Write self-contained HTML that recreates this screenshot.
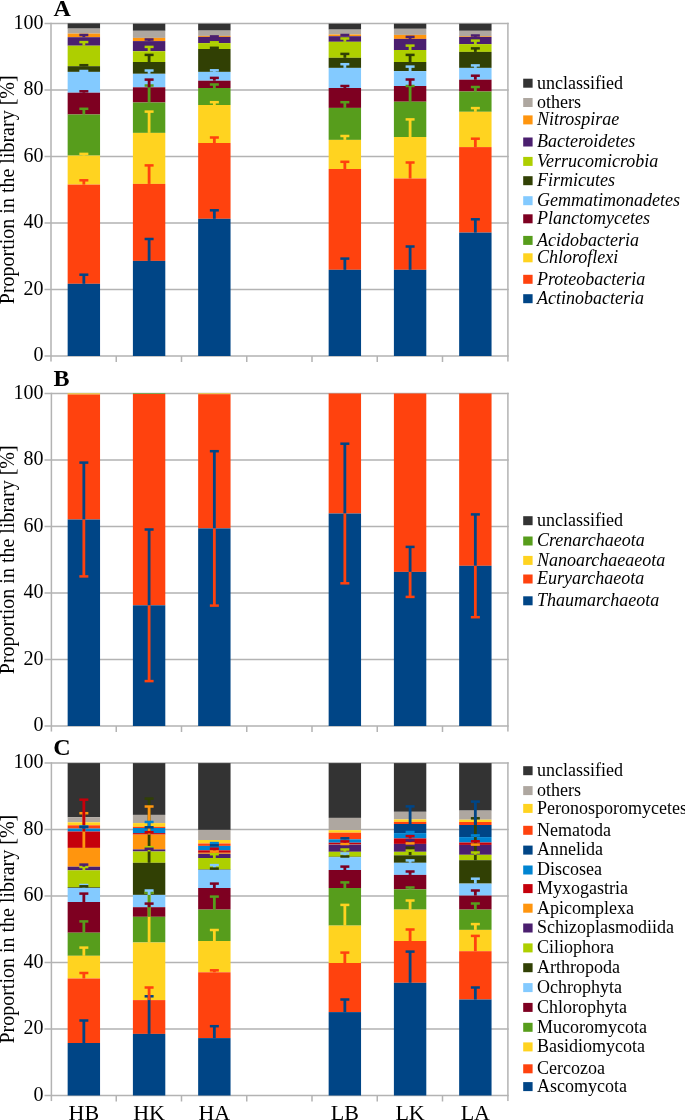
<!DOCTYPE html>
<html><head><meta charset="utf-8"><style>
html,body{margin:0;padding:0;background:#fff;}
svg{display:block;}
text{font-family:"Liberation Serif",serif;fill:#000;}
.t{filter:grayscale(1);}
</style></head><body>
<svg width="685" height="1120" viewBox="0 0 685 1120">
<rect width="685" height="1120" fill="#fff"/>
<g shape-rendering="auto">
<rect x="44.50" y="355.25" width="464.20" height="1.50" fill="#b3b3b3"/>
<rect x="44.50" y="288.75" width="464.20" height="1.50" fill="#b3b3b3"/>
<rect x="44.50" y="222.25" width="464.20" height="1.50" fill="#b3b3b3"/>
<rect x="44.50" y="155.75" width="464.20" height="1.50" fill="#b3b3b3"/>
<rect x="44.50" y="89.25" width="464.20" height="1.50" fill="#b3b3b3"/>
<rect x="44.50" y="22.75" width="464.20" height="1.50" fill="#b3b3b3"/>
<rect x="50.25" y="22.75" width="1.50" height="338.80" fill="#b3b3b3"/>
<rect x="115.50" y="356.00" width="1.50" height="6.00" fill="#b3b3b3"/>
<rect x="180.75" y="356.00" width="1.50" height="6.00" fill="#b3b3b3"/>
<rect x="246.00" y="356.00" width="1.50" height="6.00" fill="#b3b3b3"/>
<rect x="311.25" y="356.00" width="1.50" height="6.00" fill="#b3b3b3"/>
<rect x="376.50" y="356.00" width="1.50" height="6.00" fill="#b3b3b3"/>
<rect x="441.75" y="356.00" width="1.50" height="6.00" fill="#b3b3b3"/>
<rect x="507.15" y="22.75" width="1.50" height="338.80" fill="#b3b3b3"/>
<rect x="67.65" y="23.40" width="32.40" height="5.20" fill="#333333"/>
<rect x="67.65" y="28.60" width="32.40" height="5.00" fill="#aea7a0"/>
<rect x="67.65" y="33.60" width="32.40" height="3.60" fill="#ff950e"/>
<rect x="67.65" y="37.20" width="32.40" height="8.50" fill="#4b1f6f"/>
<rect x="67.65" y="45.70" width="32.40" height="20.50" fill="#aecf00"/>
<rect x="67.65" y="66.20" width="32.40" height="5.70" fill="#314004"/>
<rect x="67.65" y="71.90" width="32.40" height="20.80" fill="#83caff"/>
<rect x="67.65" y="92.70" width="32.40" height="21.80" fill="#7e0021"/>
<rect x="67.65" y="114.50" width="32.40" height="41.10" fill="#579d1c"/>
<rect x="67.65" y="155.60" width="32.40" height="29.00" fill="#ffd320"/>
<rect x="67.65" y="184.60" width="32.40" height="99.20" fill="#ff420e"/>
<rect x="67.65" y="283.80" width="32.40" height="72.20" fill="#004586"/>
<rect x="132.90" y="23.70" width="32.40" height="7.10" fill="#333333"/>
<rect x="132.90" y="30.80" width="32.40" height="7.10" fill="#aea7a0"/>
<rect x="132.90" y="37.90" width="32.40" height="3.20" fill="#ff950e"/>
<rect x="132.90" y="41.10" width="32.40" height="10.10" fill="#4b1f6f"/>
<rect x="132.90" y="51.20" width="32.40" height="10.80" fill="#aecf00"/>
<rect x="132.90" y="62.00" width="32.40" height="11.80" fill="#314004"/>
<rect x="132.90" y="73.80" width="32.40" height="13.50" fill="#83caff"/>
<rect x="132.90" y="87.30" width="32.40" height="15.20" fill="#7e0021"/>
<rect x="132.90" y="102.50" width="32.40" height="30.40" fill="#579d1c"/>
<rect x="132.90" y="132.90" width="32.40" height="51.00" fill="#ffd320"/>
<rect x="132.90" y="183.90" width="32.40" height="77.00" fill="#ff420e"/>
<rect x="132.90" y="260.90" width="32.40" height="95.10" fill="#004586"/>
<rect x="198.15" y="23.70" width="32.40" height="6.90" fill="#333333"/>
<rect x="198.15" y="30.60" width="32.40" height="5.30" fill="#aea7a0"/>
<rect x="198.15" y="35.90" width="32.40" height="1.00" fill="#ff950e"/>
<rect x="198.15" y="36.90" width="32.40" height="6.20" fill="#4b1f6f"/>
<rect x="198.15" y="43.10" width="32.40" height="5.90" fill="#aecf00"/>
<rect x="198.15" y="49.00" width="32.40" height="22.90" fill="#314004"/>
<rect x="198.15" y="71.90" width="32.40" height="8.80" fill="#83caff"/>
<rect x="198.15" y="80.70" width="32.40" height="7.30" fill="#7e0021"/>
<rect x="198.15" y="88.00" width="32.40" height="17.00" fill="#579d1c"/>
<rect x="198.15" y="105.00" width="32.40" height="38.00" fill="#ffd320"/>
<rect x="198.15" y="143.00" width="32.40" height="75.80" fill="#ff420e"/>
<rect x="198.15" y="218.80" width="32.40" height="137.20" fill="#004586"/>
<rect x="328.65" y="23.70" width="32.40" height="5.90" fill="#333333"/>
<rect x="328.65" y="29.60" width="32.40" height="4.90" fill="#aea7a0"/>
<rect x="328.65" y="34.50" width="32.40" height="1.70" fill="#ff950e"/>
<rect x="328.65" y="36.20" width="32.40" height="5.60" fill="#4b1f6f"/>
<rect x="328.65" y="41.80" width="32.40" height="16.00" fill="#aecf00"/>
<rect x="328.65" y="57.80" width="32.40" height="10.10" fill="#314004"/>
<rect x="328.65" y="67.90" width="32.40" height="20.10" fill="#83caff"/>
<rect x="328.65" y="88.00" width="32.40" height="19.90" fill="#7e0021"/>
<rect x="328.65" y="107.90" width="32.40" height="32.00" fill="#579d1c"/>
<rect x="328.65" y="139.90" width="32.40" height="29.10" fill="#ffd320"/>
<rect x="328.65" y="169.00" width="32.40" height="100.80" fill="#ff420e"/>
<rect x="328.65" y="269.80" width="32.40" height="86.20" fill="#004586"/>
<rect x="393.90" y="23.70" width="32.40" height="5.10" fill="#333333"/>
<rect x="393.90" y="28.80" width="32.40" height="6.10" fill="#aea7a0"/>
<rect x="393.90" y="34.90" width="32.40" height="4.00" fill="#ff950e"/>
<rect x="393.90" y="38.90" width="32.40" height="11.10" fill="#4b1f6f"/>
<rect x="393.90" y="50.00" width="32.40" height="12.00" fill="#aecf00"/>
<rect x="393.90" y="62.00" width="32.40" height="9.10" fill="#314004"/>
<rect x="393.90" y="71.10" width="32.40" height="14.90" fill="#83caff"/>
<rect x="393.90" y="86.00" width="32.40" height="15.70" fill="#7e0021"/>
<rect x="393.90" y="101.70" width="32.40" height="35.30" fill="#579d1c"/>
<rect x="393.90" y="137.00" width="32.40" height="41.50" fill="#ffd320"/>
<rect x="393.90" y="178.50" width="32.40" height="91.30" fill="#ff420e"/>
<rect x="393.90" y="269.80" width="32.40" height="86.20" fill="#004586"/>
<rect x="459.15" y="23.70" width="32.40" height="7.10" fill="#333333"/>
<rect x="459.15" y="30.80" width="32.40" height="5.40" fill="#aea7a0"/>
<rect x="459.15" y="36.20" width="32.40" height="0.70" fill="#ff950e"/>
<rect x="459.15" y="36.90" width="32.40" height="7.20" fill="#4b1f6f"/>
<rect x="459.15" y="44.10" width="32.40" height="7.80" fill="#aecf00"/>
<rect x="459.15" y="51.90" width="32.40" height="16.00" fill="#314004"/>
<rect x="459.15" y="67.90" width="32.40" height="11.80" fill="#83caff"/>
<rect x="459.15" y="79.70" width="32.40" height="11.80" fill="#7e0021"/>
<rect x="459.15" y="91.50" width="32.40" height="20.30" fill="#579d1c"/>
<rect x="459.15" y="111.80" width="32.40" height="35.30" fill="#ffd320"/>
<rect x="459.15" y="147.10" width="32.40" height="85.50" fill="#ff420e"/>
<rect x="459.15" y="232.60" width="32.40" height="123.40" fill="#004586"/>
<rect x="82.45" y="274.70" width="2.80" height="9.10" fill="#004586"/>
<rect x="79.35" y="273.45" width="9.00" height="2.50" fill="#004586"/>
<rect x="82.45" y="180.30" width="2.80" height="4.30" fill="#ff420e"/>
<rect x="79.35" y="179.05" width="9.00" height="2.50" fill="#ff420e"/>
<rect x="82.45" y="153.90" width="2.80" height="1.70" fill="#ffd320"/>
<rect x="79.35" y="152.65" width="9.00" height="2.50" fill="#ffd320"/>
<rect x="82.45" y="108.80" width="2.80" height="5.70" fill="#579d1c"/>
<rect x="79.35" y="107.55" width="9.00" height="2.50" fill="#579d1c"/>
<rect x="82.45" y="91.30" width="2.80" height="1.40" fill="#7e0021"/>
<rect x="79.35" y="90.05" width="9.00" height="2.50" fill="#7e0021"/>
<rect x="82.45" y="71.00" width="2.80" height="0.90" fill="#83caff"/>
<rect x="79.35" y="69.75" width="9.00" height="2.50" fill="#83caff"/>
<rect x="82.45" y="65.20" width="2.80" height="1.00" fill="#314004"/>
<rect x="79.35" y="63.95" width="9.00" height="2.50" fill="#314004"/>
<rect x="82.45" y="42.10" width="2.80" height="3.60" fill="#aecf00"/>
<rect x="79.35" y="40.85" width="9.00" height="2.50" fill="#aecf00"/>
<rect x="82.45" y="35.00" width="2.80" height="2.20" fill="#4b1f6f"/>
<rect x="79.35" y="33.75" width="9.00" height="2.50" fill="#4b1f6f"/>
<rect x="147.70" y="239.00" width="2.80" height="21.90" fill="#004586"/>
<rect x="144.60" y="237.75" width="9.00" height="2.50" fill="#004586"/>
<rect x="147.70" y="165.40" width="2.80" height="18.50" fill="#ff420e"/>
<rect x="144.60" y="164.15" width="9.00" height="2.50" fill="#ff420e"/>
<rect x="147.70" y="111.60" width="2.80" height="21.30" fill="#ffd320"/>
<rect x="144.60" y="110.35" width="9.00" height="2.50" fill="#ffd320"/>
<rect x="147.70" y="85.50" width="2.80" height="17.00" fill="#579d1c"/>
<rect x="144.60" y="84.25" width="9.00" height="2.50" fill="#579d1c"/>
<rect x="147.70" y="79.60" width="2.80" height="7.70" fill="#7e0021"/>
<rect x="144.60" y="78.35" width="9.00" height="2.50" fill="#7e0021"/>
<rect x="147.70" y="70.50" width="2.80" height="3.30" fill="#83caff"/>
<rect x="144.60" y="69.25" width="9.00" height="2.50" fill="#83caff"/>
<rect x="147.70" y="54.90" width="2.80" height="7.10" fill="#314004"/>
<rect x="144.60" y="53.65" width="9.00" height="2.50" fill="#314004"/>
<rect x="147.70" y="46.90" width="2.80" height="4.30" fill="#aecf00"/>
<rect x="144.60" y="45.65" width="9.00" height="2.50" fill="#aecf00"/>
<rect x="147.70" y="39.50" width="2.80" height="1.60" fill="#4b1f6f"/>
<rect x="144.60" y="38.25" width="9.00" height="2.50" fill="#4b1f6f"/>
<rect x="212.95" y="210.30" width="2.80" height="8.50" fill="#004586"/>
<rect x="209.85" y="209.05" width="9.00" height="2.50" fill="#004586"/>
<rect x="212.95" y="137.50" width="2.80" height="5.50" fill="#ff420e"/>
<rect x="209.85" y="136.25" width="9.00" height="2.50" fill="#ff420e"/>
<rect x="212.95" y="102.20" width="2.80" height="2.80" fill="#ffd320"/>
<rect x="209.85" y="100.95" width="9.00" height="2.50" fill="#ffd320"/>
<rect x="212.95" y="84.50" width="2.80" height="3.50" fill="#579d1c"/>
<rect x="209.85" y="83.25" width="9.00" height="2.50" fill="#579d1c"/>
<rect x="212.95" y="77.90" width="2.80" height="2.80" fill="#7e0021"/>
<rect x="209.85" y="76.65" width="9.00" height="2.50" fill="#7e0021"/>
<rect x="212.95" y="70.30" width="2.80" height="1.60" fill="#83caff"/>
<rect x="209.85" y="69.05" width="9.00" height="2.50" fill="#83caff"/>
<rect x="212.95" y="47.80" width="2.80" height="1.20" fill="#314004"/>
<rect x="209.85" y="46.55" width="9.00" height="2.50" fill="#314004"/>
<rect x="212.95" y="42.30" width="2.80" height="0.80" fill="#aecf00"/>
<rect x="209.85" y="41.05" width="9.00" height="2.50" fill="#aecf00"/>
<rect x="212.95" y="36.40" width="2.80" height="0.50" fill="#4b1f6f"/>
<rect x="209.85" y="35.15" width="9.00" height="2.50" fill="#4b1f6f"/>
<rect x="343.45" y="258.60" width="2.80" height="11.20" fill="#004586"/>
<rect x="340.35" y="257.35" width="9.00" height="2.50" fill="#004586"/>
<rect x="343.45" y="161.80" width="2.80" height="7.20" fill="#ff420e"/>
<rect x="340.35" y="160.55" width="9.00" height="2.50" fill="#ff420e"/>
<rect x="343.45" y="136.00" width="2.80" height="3.90" fill="#ffd320"/>
<rect x="340.35" y="134.75" width="9.00" height="2.50" fill="#ffd320"/>
<rect x="343.45" y="102.20" width="2.80" height="5.70" fill="#579d1c"/>
<rect x="340.35" y="100.95" width="9.00" height="2.50" fill="#579d1c"/>
<rect x="343.45" y="86.00" width="2.80" height="2.00" fill="#7e0021"/>
<rect x="340.35" y="84.75" width="9.00" height="2.50" fill="#7e0021"/>
<rect x="343.45" y="64.20" width="2.80" height="3.70" fill="#83caff"/>
<rect x="340.35" y="62.95" width="9.00" height="2.50" fill="#83caff"/>
<rect x="343.45" y="53.90" width="2.80" height="3.90" fill="#314004"/>
<rect x="340.35" y="52.65" width="9.00" height="2.50" fill="#314004"/>
<rect x="343.45" y="38.50" width="2.80" height="3.30" fill="#aecf00"/>
<rect x="340.35" y="37.25" width="9.00" height="2.50" fill="#aecf00"/>
<rect x="343.45" y="35.00" width="2.80" height="1.20" fill="#4b1f6f"/>
<rect x="340.35" y="33.75" width="9.00" height="2.50" fill="#4b1f6f"/>
<rect x="408.70" y="246.50" width="2.80" height="23.30" fill="#004586"/>
<rect x="405.60" y="245.25" width="9.00" height="2.50" fill="#004586"/>
<rect x="408.70" y="162.50" width="2.80" height="16.00" fill="#ff420e"/>
<rect x="405.60" y="161.25" width="9.00" height="2.50" fill="#ff420e"/>
<rect x="408.70" y="119.40" width="2.80" height="17.60" fill="#ffd320"/>
<rect x="405.60" y="118.15" width="9.00" height="2.50" fill="#ffd320"/>
<rect x="408.70" y="86.00" width="2.80" height="15.70" fill="#579d1c"/>
<rect x="405.60" y="84.75" width="9.00" height="2.50" fill="#579d1c"/>
<rect x="408.70" y="79.50" width="2.80" height="6.50" fill="#7e0021"/>
<rect x="405.60" y="78.25" width="9.00" height="2.50" fill="#7e0021"/>
<rect x="408.70" y="66.60" width="2.80" height="4.50" fill="#83caff"/>
<rect x="405.60" y="65.35" width="9.00" height="2.50" fill="#83caff"/>
<rect x="408.70" y="54.90" width="2.80" height="7.10" fill="#314004"/>
<rect x="405.60" y="53.65" width="9.00" height="2.50" fill="#314004"/>
<rect x="408.70" y="45.60" width="2.80" height="4.40" fill="#aecf00"/>
<rect x="405.60" y="44.35" width="9.00" height="2.50" fill="#aecf00"/>
<rect x="408.70" y="36.90" width="2.80" height="2.00" fill="#4b1f6f"/>
<rect x="405.60" y="35.65" width="9.00" height="2.50" fill="#4b1f6f"/>
<rect x="473.95" y="219.30" width="2.80" height="13.30" fill="#004586"/>
<rect x="470.85" y="218.05" width="9.00" height="2.50" fill="#004586"/>
<rect x="473.95" y="138.70" width="2.80" height="8.40" fill="#ff420e"/>
<rect x="470.85" y="137.45" width="9.00" height="2.50" fill="#ff420e"/>
<rect x="473.95" y="108.10" width="2.80" height="3.70" fill="#ffd320"/>
<rect x="470.85" y="106.85" width="9.00" height="2.50" fill="#ffd320"/>
<rect x="473.95" y="87.00" width="2.80" height="4.50" fill="#579d1c"/>
<rect x="470.85" y="85.75" width="9.00" height="2.50" fill="#579d1c"/>
<rect x="473.95" y="75.70" width="2.80" height="4.00" fill="#7e0021"/>
<rect x="470.85" y="74.45" width="9.00" height="2.50" fill="#7e0021"/>
<rect x="473.95" y="65.40" width="2.80" height="2.50" fill="#83caff"/>
<rect x="470.85" y="64.15" width="9.00" height="2.50" fill="#83caff"/>
<rect x="473.95" y="48.40" width="2.80" height="3.50" fill="#314004"/>
<rect x="470.85" y="47.15" width="9.00" height="2.50" fill="#314004"/>
<rect x="473.95" y="40.60" width="2.80" height="3.50" fill="#aecf00"/>
<rect x="470.85" y="39.35" width="9.00" height="2.50" fill="#aecf00"/>
<rect x="473.95" y="35.50" width="2.80" height="1.40" fill="#4b1f6f"/>
<rect x="470.85" y="34.25" width="9.00" height="2.50" fill="#4b1f6f"/>
<rect x="44.50" y="725.25" width="464.20" height="1.50" fill="#b3b3b3"/>
<rect x="44.50" y="658.75" width="464.20" height="1.50" fill="#b3b3b3"/>
<rect x="44.50" y="592.25" width="464.20" height="1.50" fill="#b3b3b3"/>
<rect x="44.50" y="525.75" width="464.20" height="1.50" fill="#b3b3b3"/>
<rect x="44.50" y="459.25" width="464.20" height="1.50" fill="#b3b3b3"/>
<rect x="44.50" y="392.75" width="464.20" height="1.50" fill="#b3b3b3"/>
<rect x="50.65" y="392.75" width="1.50" height="338.80" fill="#b3b3b3"/>
<rect x="115.50" y="726.00" width="1.50" height="6.00" fill="#b3b3b3"/>
<rect x="180.75" y="726.00" width="1.50" height="6.00" fill="#b3b3b3"/>
<rect x="246.00" y="726.00" width="1.50" height="6.00" fill="#b3b3b3"/>
<rect x="311.25" y="726.00" width="1.50" height="6.00" fill="#b3b3b3"/>
<rect x="376.50" y="726.00" width="1.50" height="6.00" fill="#b3b3b3"/>
<rect x="441.75" y="726.00" width="1.50" height="6.00" fill="#b3b3b3"/>
<rect x="507.15" y="392.75" width="1.50" height="338.80" fill="#b3b3b3"/>
<rect x="67.65" y="393.40" width="32.40" height="1.10" fill="#ffd320"/>
<rect x="67.65" y="394.50" width="32.40" height="125.00" fill="#ff420e"/>
<rect x="67.65" y="519.50" width="32.40" height="206.50" fill="#004586"/>
<rect x="132.90" y="393.40" width="32.40" height="0.60" fill="#579d1c"/>
<rect x="132.90" y="394.00" width="32.40" height="211.30" fill="#ff420e"/>
<rect x="132.90" y="605.30" width="32.40" height="120.70" fill="#004586"/>
<rect x="198.15" y="393.40" width="32.40" height="0.80" fill="#ffd320"/>
<rect x="198.15" y="394.20" width="32.40" height="134.20" fill="#ff420e"/>
<rect x="198.15" y="528.40" width="32.40" height="197.60" fill="#004586"/>
<rect x="328.65" y="393.40" width="32.40" height="0.40" fill="#ff420e"/>
<rect x="328.65" y="393.80" width="32.40" height="119.70" fill="#ff420e"/>
<rect x="328.65" y="513.50" width="32.40" height="212.50" fill="#004586"/>
<rect x="393.90" y="393.40" width="32.40" height="0.20" fill="#ff420e"/>
<rect x="393.90" y="393.60" width="32.40" height="178.30" fill="#ff420e"/>
<rect x="393.90" y="571.90" width="32.40" height="154.10" fill="#004586"/>
<rect x="459.15" y="393.40" width="32.40" height="0.40" fill="#ff420e"/>
<rect x="459.15" y="393.80" width="32.40" height="172.00" fill="#ff420e"/>
<rect x="459.15" y="565.80" width="32.40" height="160.20" fill="#004586"/>
<rect x="82.45" y="462.60" width="2.80" height="56.90" fill="#004586"/>
<rect x="79.35" y="461.35" width="9.00" height="2.50" fill="#004586"/>
<rect x="82.45" y="519.50" width="2.80" height="56.90" fill="#ff420e"/>
<rect x="79.35" y="575.15" width="9.00" height="2.50" fill="#ff420e"/>
<rect x="147.70" y="529.50" width="2.80" height="75.80" fill="#004586"/>
<rect x="144.60" y="528.25" width="9.00" height="2.50" fill="#004586"/>
<rect x="147.70" y="605.30" width="2.80" height="75.80" fill="#ff420e"/>
<rect x="144.60" y="679.85" width="9.00" height="2.50" fill="#ff420e"/>
<rect x="212.95" y="451.20" width="2.80" height="77.20" fill="#004586"/>
<rect x="209.85" y="449.95" width="9.00" height="2.50" fill="#004586"/>
<rect x="212.95" y="528.40" width="2.80" height="77.20" fill="#ff420e"/>
<rect x="209.85" y="604.35" width="9.00" height="2.50" fill="#ff420e"/>
<rect x="343.45" y="443.70" width="2.80" height="69.80" fill="#004586"/>
<rect x="340.35" y="442.45" width="9.00" height="2.50" fill="#004586"/>
<rect x="343.45" y="513.50" width="2.80" height="69.80" fill="#ff420e"/>
<rect x="340.35" y="582.05" width="9.00" height="2.50" fill="#ff420e"/>
<rect x="408.70" y="546.90" width="2.80" height="25.00" fill="#004586"/>
<rect x="405.60" y="545.65" width="9.00" height="2.50" fill="#004586"/>
<rect x="408.70" y="571.90" width="2.80" height="25.00" fill="#ff420e"/>
<rect x="405.60" y="595.65" width="9.00" height="2.50" fill="#ff420e"/>
<rect x="473.95" y="514.40" width="2.80" height="51.40" fill="#004586"/>
<rect x="470.85" y="513.15" width="9.00" height="2.50" fill="#004586"/>
<rect x="473.95" y="565.80" width="2.80" height="51.40" fill="#ff420e"/>
<rect x="470.85" y="615.95" width="9.00" height="2.50" fill="#ff420e"/>
<rect x="44.50" y="1094.75" width="464.20" height="1.50" fill="#b3b3b3"/>
<rect x="44.50" y="1028.25" width="464.20" height="1.50" fill="#b3b3b3"/>
<rect x="44.50" y="961.75" width="464.20" height="1.50" fill="#b3b3b3"/>
<rect x="44.50" y="895.25" width="464.20" height="1.50" fill="#b3b3b3"/>
<rect x="44.50" y="828.75" width="464.20" height="1.50" fill="#b3b3b3"/>
<rect x="44.50" y="762.25" width="464.20" height="1.50" fill="#b3b3b3"/>
<rect x="50.65" y="762.25" width="1.50" height="338.80" fill="#b3b3b3"/>
<rect x="115.50" y="1095.50" width="1.50" height="6.00" fill="#b3b3b3"/>
<rect x="180.75" y="1095.50" width="1.50" height="6.00" fill="#b3b3b3"/>
<rect x="246.00" y="1095.50" width="1.50" height="6.00" fill="#b3b3b3"/>
<rect x="311.25" y="1095.50" width="1.50" height="6.00" fill="#b3b3b3"/>
<rect x="376.50" y="1095.50" width="1.50" height="6.00" fill="#b3b3b3"/>
<rect x="441.75" y="1095.50" width="1.50" height="6.00" fill="#b3b3b3"/>
<rect x="507.15" y="762.25" width="1.50" height="338.80" fill="#b3b3b3"/>
<rect x="67.65" y="763.10" width="32.40" height="54.10" fill="#333333"/>
<rect x="67.65" y="817.20" width="32.40" height="5.10" fill="#aea7a0"/>
<rect x="67.65" y="822.30" width="32.40" height="3.00" fill="#ffd320"/>
<rect x="67.65" y="825.30" width="32.40" height="3.20" fill="#ff420e"/>
<rect x="67.65" y="828.50" width="32.40" height="0.20" fill="#004586"/>
<rect x="67.65" y="828.70" width="32.40" height="2.80" fill="#0084d1"/>
<rect x="67.65" y="831.50" width="32.40" height="16.40" fill="#c5000b"/>
<rect x="67.65" y="847.90" width="32.40" height="18.80" fill="#ff950e"/>
<rect x="67.65" y="866.70" width="32.40" height="3.60" fill="#4b1f6f"/>
<rect x="67.65" y="870.30" width="32.40" height="17.00" fill="#aecf00"/>
<rect x="67.65" y="887.30" width="32.40" height="0.70" fill="#314004"/>
<rect x="67.65" y="888.00" width="32.40" height="14.00" fill="#83caff"/>
<rect x="67.65" y="902.00" width="32.40" height="30.70" fill="#7e0021"/>
<rect x="67.65" y="932.70" width="32.40" height="23.10" fill="#579d1c"/>
<rect x="67.65" y="955.80" width="32.40" height="22.70" fill="#ffd320"/>
<rect x="67.65" y="978.50" width="32.40" height="64.50" fill="#ff420e"/>
<rect x="67.65" y="1043.00" width="32.40" height="52.50" fill="#004586"/>
<rect x="132.90" y="763.10" width="32.40" height="51.80" fill="#333333"/>
<rect x="132.90" y="814.90" width="32.40" height="8.20" fill="#aea7a0"/>
<rect x="132.90" y="823.10" width="32.40" height="3.70" fill="#ffd320"/>
<rect x="132.90" y="826.80" width="32.40" height="1.20" fill="#ff420e"/>
<rect x="132.90" y="828.00" width="32.40" height="5.10" fill="#0084d1"/>
<rect x="132.90" y="833.10" width="32.40" height="1.50" fill="#c5000b"/>
<rect x="132.90" y="834.60" width="32.40" height="14.80" fill="#ff950e"/>
<rect x="132.90" y="849.40" width="32.40" height="2.10" fill="#4b1f6f"/>
<rect x="132.90" y="851.50" width="32.40" height="11.30" fill="#aecf00"/>
<rect x="132.90" y="862.80" width="32.40" height="32.10" fill="#314004"/>
<rect x="132.90" y="894.90" width="32.40" height="12.30" fill="#83caff"/>
<rect x="132.90" y="907.20" width="32.40" height="9.60" fill="#7e0021"/>
<rect x="132.90" y="916.80" width="32.40" height="25.70" fill="#579d1c"/>
<rect x="132.90" y="942.50" width="32.40" height="57.60" fill="#ffd320"/>
<rect x="132.90" y="1000.10" width="32.40" height="33.80" fill="#ff420e"/>
<rect x="132.90" y="1033.90" width="32.40" height="61.60" fill="#004586"/>
<rect x="198.15" y="763.10" width="32.40" height="66.80" fill="#333333"/>
<rect x="198.15" y="829.90" width="32.40" height="10.10" fill="#aea7a0"/>
<rect x="198.15" y="840.00" width="32.40" height="3.50" fill="#ffd320"/>
<rect x="198.15" y="843.50" width="32.40" height="2.40" fill="#ff420e"/>
<rect x="198.15" y="845.90" width="32.40" height="4.40" fill="#0084d1"/>
<rect x="198.15" y="850.30" width="32.40" height="2.50" fill="#c5000b"/>
<rect x="198.15" y="852.80" width="32.40" height="1.00" fill="#ff950e"/>
<rect x="198.15" y="853.80" width="32.40" height="4.20" fill="#4b1f6f"/>
<rect x="198.15" y="858.00" width="32.40" height="11.30" fill="#aecf00"/>
<rect x="198.15" y="869.30" width="32.40" height="0.50" fill="#314004"/>
<rect x="198.15" y="869.80" width="32.40" height="18.20" fill="#83caff"/>
<rect x="198.15" y="888.00" width="32.40" height="21.60" fill="#7e0021"/>
<rect x="198.15" y="909.60" width="32.40" height="31.40" fill="#579d1c"/>
<rect x="198.15" y="941.00" width="32.40" height="31.30" fill="#ffd320"/>
<rect x="198.15" y="972.30" width="32.40" height="65.80" fill="#ff420e"/>
<rect x="198.15" y="1038.10" width="32.40" height="57.40" fill="#004586"/>
<rect x="328.65" y="763.10" width="32.40" height="54.80" fill="#333333"/>
<rect x="328.65" y="817.90" width="32.40" height="12.30" fill="#aea7a0"/>
<rect x="328.65" y="830.20" width="32.40" height="2.50" fill="#ffd320"/>
<rect x="328.65" y="832.70" width="32.40" height="6.60" fill="#ff420e"/>
<rect x="328.65" y="839.30" width="32.40" height="3.40" fill="#0084d1"/>
<rect x="328.65" y="842.70" width="32.40" height="1.70" fill="#c5000b"/>
<rect x="328.65" y="844.40" width="32.40" height="0.20" fill="#ff950e"/>
<rect x="328.65" y="844.60" width="32.40" height="7.20" fill="#4b1f6f"/>
<rect x="328.65" y="851.80" width="32.40" height="4.90" fill="#aecf00"/>
<rect x="328.65" y="856.70" width="32.40" height="0.50" fill="#314004"/>
<rect x="328.65" y="857.20" width="32.40" height="12.80" fill="#83caff"/>
<rect x="328.65" y="870.00" width="32.40" height="18.00" fill="#7e0021"/>
<rect x="328.65" y="888.00" width="32.40" height="37.60" fill="#579d1c"/>
<rect x="328.65" y="925.60" width="32.40" height="37.40" fill="#ffd320"/>
<rect x="328.65" y="963.00" width="32.40" height="49.10" fill="#ff420e"/>
<rect x="328.65" y="1012.10" width="32.40" height="83.40" fill="#004586"/>
<rect x="393.90" y="763.10" width="32.40" height="48.70" fill="#333333"/>
<rect x="393.90" y="811.80" width="32.40" height="7.60" fill="#aea7a0"/>
<rect x="393.90" y="819.40" width="32.40" height="2.50" fill="#ffd320"/>
<rect x="393.90" y="821.90" width="32.40" height="2.10" fill="#ff420e"/>
<rect x="393.90" y="824.00" width="32.40" height="9.10" fill="#004586"/>
<rect x="393.90" y="833.10" width="32.40" height="5.30" fill="#0084d1"/>
<rect x="393.90" y="838.40" width="32.40" height="5.50" fill="#c5000b"/>
<rect x="393.90" y="843.90" width="32.40" height="7.90" fill="#4b1f6f"/>
<rect x="393.90" y="851.80" width="32.40" height="3.50" fill="#aecf00"/>
<rect x="393.90" y="855.30" width="32.40" height="7.50" fill="#314004"/>
<rect x="393.90" y="862.80" width="32.40" height="12.10" fill="#83caff"/>
<rect x="393.90" y="874.90" width="32.40" height="14.40" fill="#7e0021"/>
<rect x="393.90" y="889.30" width="32.40" height="20.30" fill="#579d1c"/>
<rect x="393.90" y="909.60" width="32.40" height="31.40" fill="#ffd320"/>
<rect x="393.90" y="941.00" width="32.40" height="41.80" fill="#ff420e"/>
<rect x="393.90" y="982.80" width="32.40" height="112.70" fill="#004586"/>
<rect x="459.15" y="763.10" width="32.40" height="47.50" fill="#333333"/>
<rect x="459.15" y="810.60" width="32.40" height="9.10" fill="#aea7a0"/>
<rect x="459.15" y="819.70" width="32.40" height="2.30" fill="#ffd320"/>
<rect x="459.15" y="822.00" width="32.40" height="3.00" fill="#ff420e"/>
<rect x="459.15" y="825.00" width="32.40" height="12.10" fill="#004586"/>
<rect x="459.15" y="837.10" width="32.40" height="5.40" fill="#0084d1"/>
<rect x="459.15" y="842.50" width="32.40" height="2.40" fill="#c5000b"/>
<rect x="459.15" y="844.90" width="32.40" height="9.90" fill="#4b1f6f"/>
<rect x="459.15" y="854.80" width="32.40" height="5.40" fill="#aecf00"/>
<rect x="459.15" y="860.20" width="32.40" height="23.40" fill="#314004"/>
<rect x="459.15" y="883.60" width="32.40" height="12.00" fill="#83caff"/>
<rect x="459.15" y="895.60" width="32.40" height="14.00" fill="#7e0021"/>
<rect x="459.15" y="909.60" width="32.40" height="20.30" fill="#579d1c"/>
<rect x="459.15" y="929.90" width="32.40" height="21.30" fill="#ffd320"/>
<rect x="459.15" y="951.20" width="32.40" height="48.30" fill="#ff420e"/>
<rect x="459.15" y="999.50" width="32.40" height="96.00" fill="#004586"/>
<rect x="82.45" y="1020.50" width="2.80" height="22.50" fill="#004586"/>
<rect x="79.35" y="1019.25" width="9.00" height="2.50" fill="#004586"/>
<rect x="82.45" y="973.00" width="2.80" height="5.50" fill="#ff420e"/>
<rect x="79.35" y="971.75" width="9.00" height="2.50" fill="#ff420e"/>
<rect x="82.45" y="947.60" width="2.80" height="8.20" fill="#ffd320"/>
<rect x="79.35" y="946.35" width="9.00" height="2.50" fill="#ffd320"/>
<rect x="82.45" y="921.40" width="2.80" height="11.30" fill="#579d1c"/>
<rect x="79.35" y="920.15" width="9.00" height="2.50" fill="#579d1c"/>
<rect x="82.45" y="893.60" width="2.80" height="8.40" fill="#7e0021"/>
<rect x="79.35" y="892.35" width="9.00" height="2.50" fill="#7e0021"/>
<rect x="82.45" y="885.00" width="2.80" height="3.00" fill="#83caff"/>
<rect x="79.35" y="883.75" width="9.00" height="2.50" fill="#83caff"/>
<rect x="82.45" y="886.30" width="2.80" height="1.00" fill="#314004"/>
<rect x="79.35" y="885.05" width="9.00" height="2.50" fill="#314004"/>
<rect x="82.45" y="867.00" width="2.80" height="3.30" fill="#aecf00"/>
<rect x="79.35" y="865.75" width="9.00" height="2.50" fill="#aecf00"/>
<rect x="82.45" y="864.60" width="2.80" height="2.10" fill="#4b1f6f"/>
<rect x="79.35" y="863.35" width="9.00" height="2.50" fill="#4b1f6f"/>
<rect x="82.45" y="813.20" width="2.80" height="34.70" fill="#ff950e"/>
<rect x="79.35" y="811.95" width="9.00" height="2.50" fill="#ff950e"/>
<rect x="82.45" y="799.70" width="2.80" height="31.80" fill="#c5000b"/>
<rect x="79.35" y="798.45" width="9.00" height="2.50" fill="#c5000b"/>
<rect x="82.45" y="826.50" width="2.80" height="2.20" fill="#0084d1"/>
<rect x="79.35" y="825.25" width="9.00" height="2.50" fill="#0084d1"/>
<rect x="82.45" y="827.00" width="2.80" height="1.50" fill="#004586"/>
<rect x="79.35" y="825.75" width="9.00" height="2.50" fill="#004586"/>
<rect x="147.70" y="996.30" width="2.80" height="37.60" fill="#004586"/>
<rect x="144.60" y="995.05" width="9.00" height="2.50" fill="#004586"/>
<rect x="147.70" y="987.50" width="2.80" height="12.60" fill="#ff420e"/>
<rect x="144.60" y="986.25" width="9.00" height="2.50" fill="#ff420e"/>
<rect x="147.70" y="892.70" width="2.80" height="49.80" fill="#ffd320"/>
<rect x="144.60" y="891.45" width="9.00" height="2.50" fill="#ffd320"/>
<rect x="147.70" y="892.70" width="2.80" height="24.10" fill="#579d1c"/>
<rect x="144.60" y="891.45" width="9.00" height="2.50" fill="#579d1c"/>
<rect x="147.70" y="903.60" width="2.80" height="3.60" fill="#7e0021"/>
<rect x="144.60" y="902.35" width="9.00" height="2.50" fill="#7e0021"/>
<rect x="147.70" y="890.50" width="2.80" height="4.40" fill="#83caff"/>
<rect x="144.60" y="889.25" width="9.00" height="2.50" fill="#83caff"/>
<rect x="147.70" y="798.60" width="2.80" height="64.20" fill="#314004"/>
<rect x="144.60" y="797.35" width="9.00" height="2.50" fill="#314004"/>
<rect x="147.70" y="847.20" width="2.80" height="4.30" fill="#aecf00"/>
<rect x="144.60" y="845.95" width="9.00" height="2.50" fill="#aecf00"/>
<rect x="147.70" y="848.80" width="2.80" height="0.60" fill="#4b1f6f"/>
<rect x="144.60" y="847.55" width="9.00" height="2.50" fill="#4b1f6f"/>
<rect x="147.70" y="806.50" width="2.80" height="28.10" fill="#ff950e"/>
<rect x="144.60" y="805.25" width="9.00" height="2.50" fill="#ff950e"/>
<rect x="147.70" y="832.20" width="2.80" height="0.90" fill="#c5000b"/>
<rect x="144.60" y="830.95" width="9.00" height="2.50" fill="#c5000b"/>
<rect x="147.70" y="822.00" width="2.80" height="6.00" fill="#0084d1"/>
<rect x="144.60" y="820.75" width="9.00" height="2.50" fill="#0084d1"/>
<rect x="147.70" y="827.30" width="2.80" height="0.70" fill="#004586"/>
<rect x="144.60" y="826.05" width="9.00" height="2.50" fill="#004586"/>
<rect x="212.95" y="1026.20" width="2.80" height="11.90" fill="#004586"/>
<rect x="209.85" y="1024.95" width="9.00" height="2.50" fill="#004586"/>
<rect x="212.95" y="970.30" width="2.80" height="2.00" fill="#ff420e"/>
<rect x="209.85" y="969.05" width="9.00" height="2.50" fill="#ff420e"/>
<rect x="212.95" y="930.00" width="2.80" height="11.00" fill="#ffd320"/>
<rect x="209.85" y="928.75" width="9.00" height="2.50" fill="#ffd320"/>
<rect x="212.95" y="896.60" width="2.80" height="13.00" fill="#579d1c"/>
<rect x="209.85" y="895.35" width="9.00" height="2.50" fill="#579d1c"/>
<rect x="212.95" y="883.60" width="2.80" height="4.40" fill="#7e0021"/>
<rect x="209.85" y="882.35" width="9.00" height="2.50" fill="#7e0021"/>
<rect x="212.95" y="865.10" width="2.80" height="4.70" fill="#83caff"/>
<rect x="209.85" y="863.85" width="9.00" height="2.50" fill="#83caff"/>
<rect x="212.95" y="868.60" width="2.80" height="0.70" fill="#314004"/>
<rect x="209.85" y="867.35" width="9.00" height="2.50" fill="#314004"/>
<rect x="212.95" y="854.20" width="2.80" height="3.80" fill="#aecf00"/>
<rect x="209.85" y="852.95" width="9.00" height="2.50" fill="#aecf00"/>
<rect x="212.95" y="851.50" width="2.80" height="1.30" fill="#ff950e"/>
<rect x="209.85" y="850.25" width="9.00" height="2.50" fill="#ff950e"/>
<rect x="212.95" y="848.70" width="2.80" height="1.60" fill="#c5000b"/>
<rect x="209.85" y="847.45" width="9.00" height="2.50" fill="#c5000b"/>
<rect x="212.95" y="843.10" width="2.80" height="2.80" fill="#0084d1"/>
<rect x="209.85" y="841.85" width="9.00" height="2.50" fill="#0084d1"/>
<rect x="212.95" y="845.30" width="2.80" height="0.60" fill="#004586"/>
<rect x="209.85" y="844.05" width="9.00" height="2.50" fill="#004586"/>
<rect x="343.45" y="999.50" width="2.80" height="12.60" fill="#004586"/>
<rect x="340.35" y="998.25" width="9.00" height="2.50" fill="#004586"/>
<rect x="343.45" y="952.60" width="2.80" height="10.40" fill="#ff420e"/>
<rect x="340.35" y="951.35" width="9.00" height="2.50" fill="#ff420e"/>
<rect x="343.45" y="904.90" width="2.80" height="20.70" fill="#ffd320"/>
<rect x="340.35" y="903.65" width="9.00" height="2.50" fill="#ffd320"/>
<rect x="343.45" y="882.40" width="2.80" height="5.60" fill="#579d1c"/>
<rect x="340.35" y="881.15" width="9.00" height="2.50" fill="#579d1c"/>
<rect x="343.45" y="866.60" width="2.80" height="3.40" fill="#7e0021"/>
<rect x="340.35" y="865.35" width="9.00" height="2.50" fill="#7e0021"/>
<rect x="343.45" y="853.50" width="2.80" height="3.70" fill="#83caff"/>
<rect x="340.35" y="852.25" width="9.00" height="2.50" fill="#83caff"/>
<rect x="343.45" y="856.50" width="2.80" height="0.20" fill="#314004"/>
<rect x="340.35" y="855.25" width="9.00" height="2.50" fill="#314004"/>
<rect x="343.45" y="849.50" width="2.80" height="2.30" fill="#aecf00"/>
<rect x="340.35" y="848.25" width="9.00" height="2.50" fill="#aecf00"/>
<rect x="343.45" y="844.00" width="2.80" height="0.40" fill="#ff950e"/>
<rect x="340.35" y="842.75" width="9.00" height="2.50" fill="#ff950e"/>
<rect x="343.45" y="841.40" width="2.80" height="1.30" fill="#c5000b"/>
<rect x="340.35" y="840.15" width="9.00" height="2.50" fill="#c5000b"/>
<rect x="343.45" y="838.30" width="2.80" height="1.00" fill="#004586"/>
<rect x="340.35" y="837.05" width="9.00" height="2.50" fill="#004586"/>
<rect x="408.70" y="951.60" width="2.80" height="31.20" fill="#004586"/>
<rect x="405.60" y="950.35" width="9.00" height="2.50" fill="#004586"/>
<rect x="408.70" y="929.50" width="2.80" height="11.50" fill="#ff420e"/>
<rect x="405.60" y="928.25" width="9.00" height="2.50" fill="#ff420e"/>
<rect x="408.70" y="900.50" width="2.80" height="9.10" fill="#ffd320"/>
<rect x="405.60" y="899.25" width="9.00" height="2.50" fill="#ffd320"/>
<rect x="408.70" y="887.50" width="2.80" height="1.80" fill="#579d1c"/>
<rect x="405.60" y="886.25" width="9.00" height="2.50" fill="#579d1c"/>
<rect x="408.70" y="871.50" width="2.80" height="3.40" fill="#7e0021"/>
<rect x="405.60" y="870.25" width="9.00" height="2.50" fill="#7e0021"/>
<rect x="408.70" y="860.40" width="2.80" height="2.40" fill="#83caff"/>
<rect x="405.60" y="859.15" width="9.00" height="2.50" fill="#83caff"/>
<rect x="408.70" y="847.60" width="2.80" height="7.70" fill="#314004"/>
<rect x="405.60" y="846.35" width="9.00" height="2.50" fill="#314004"/>
<rect x="408.70" y="850.60" width="2.80" height="1.20" fill="#aecf00"/>
<rect x="405.60" y="849.35" width="9.00" height="2.50" fill="#aecf00"/>
<rect x="408.70" y="840.20" width="2.80" height="3.70" fill="#4b1f6f"/>
<rect x="405.60" y="838.95" width="9.00" height="2.50" fill="#4b1f6f"/>
<rect x="408.70" y="843.40" width="2.80" height="0.50" fill="#ff950e"/>
<rect x="405.60" y="842.15" width="9.00" height="2.50" fill="#ff950e"/>
<rect x="408.70" y="836.10" width="2.80" height="2.30" fill="#c5000b"/>
<rect x="405.60" y="834.85" width="9.00" height="2.50" fill="#c5000b"/>
<rect x="408.70" y="832.00" width="2.80" height="1.10" fill="#0084d1"/>
<rect x="405.60" y="830.75" width="9.00" height="2.50" fill="#0084d1"/>
<rect x="408.70" y="806.40" width="2.80" height="17.60" fill="#004586"/>
<rect x="405.60" y="805.15" width="9.00" height="2.50" fill="#004586"/>
<rect x="473.95" y="987.50" width="2.80" height="12.00" fill="#004586"/>
<rect x="470.85" y="986.25" width="9.00" height="2.50" fill="#004586"/>
<rect x="473.95" y="935.90" width="2.80" height="15.30" fill="#ff420e"/>
<rect x="470.85" y="934.65" width="9.00" height="2.50" fill="#ff420e"/>
<rect x="473.95" y="924.10" width="2.80" height="5.80" fill="#ffd320"/>
<rect x="470.85" y="922.85" width="9.00" height="2.50" fill="#ffd320"/>
<rect x="473.95" y="903.50" width="2.80" height="6.10" fill="#579d1c"/>
<rect x="470.85" y="902.25" width="9.00" height="2.50" fill="#579d1c"/>
<rect x="473.95" y="890.50" width="2.80" height="5.10" fill="#7e0021"/>
<rect x="470.85" y="889.25" width="9.00" height="2.50" fill="#7e0021"/>
<rect x="473.95" y="878.70" width="2.80" height="4.90" fill="#83caff"/>
<rect x="470.85" y="877.45" width="9.00" height="2.50" fill="#83caff"/>
<rect x="473.95" y="818.30" width="2.80" height="41.90" fill="#314004"/>
<rect x="470.85" y="817.05" width="9.00" height="2.50" fill="#314004"/>
<rect x="473.95" y="852.50" width="2.80" height="2.30" fill="#aecf00"/>
<rect x="470.85" y="851.25" width="9.00" height="2.50" fill="#aecf00"/>
<rect x="473.95" y="844.60" width="2.80" height="0.30" fill="#ff950e"/>
<rect x="470.85" y="843.35" width="9.00" height="2.50" fill="#ff950e"/>
<rect x="473.95" y="841.30" width="2.80" height="1.20" fill="#c5000b"/>
<rect x="470.85" y="840.05" width="9.00" height="2.50" fill="#c5000b"/>
<rect x="473.95" y="835.40" width="2.80" height="1.70" fill="#0084d1"/>
<rect x="470.85" y="834.15" width="9.00" height="2.50" fill="#0084d1"/>
<rect x="473.95" y="801.60" width="2.80" height="23.40" fill="#004586"/>
<rect x="470.85" y="800.35" width="9.00" height="2.50" fill="#004586"/>
</g>
<g class="t" font-size="20">
<text x="43.6" y="361.1" text-anchor="end">0</text>
<text x="43.6" y="294.6" text-anchor="end">20</text>
<text x="43.6" y="228.1" text-anchor="end">40</text>
<text x="43.6" y="161.6" text-anchor="end">60</text>
<text x="43.6" y="95.1" text-anchor="end">80</text>
<text x="43.6" y="28.6" text-anchor="end">100</text>
<text transform="translate(14.4,189.8) rotate(-90)" text-anchor="middle">Proportion in the library [%]</text>
<text x="43.6" y="731.1" text-anchor="end">0</text>
<text x="43.6" y="664.6" text-anchor="end">20</text>
<text x="43.6" y="598.1" text-anchor="end">40</text>
<text x="43.6" y="531.6" text-anchor="end">60</text>
<text x="43.6" y="465.1" text-anchor="end">80</text>
<text x="43.6" y="398.6" text-anchor="end">100</text>
<text transform="translate(14.4,559.8) rotate(-90)" text-anchor="middle">Proportion in the library [%]</text>
<text x="43.6" y="1100.6" text-anchor="end">0</text>
<text x="43.6" y="1034.1" text-anchor="end">20</text>
<text x="43.6" y="967.6" text-anchor="end">40</text>
<text x="43.6" y="901.1" text-anchor="end">60</text>
<text x="43.6" y="834.6" text-anchor="end">80</text>
<text x="43.6" y="768.1" text-anchor="end">100</text>
<text transform="translate(14.4,929.2) rotate(-90)" text-anchor="middle">Proportion in the library [%]</text>
</g>
<g class="t" font-size="22"><text x="83.85" y="1120.2" text-anchor="middle">HB</text><text x="149.10" y="1120.2" text-anchor="middle">HK</text><text x="214.35" y="1120.2" text-anchor="middle">HA</text><text x="344.85" y="1120.2" text-anchor="middle">LB</text><text x="410.10" y="1120.2" text-anchor="middle">LK</text><text x="475.35" y="1120.2" text-anchor="middle">LA</text></g>
<g class="t" font-size="24" font-weight="bold">
<text x="53.6" y="16">A</text>
<text x="53.6" y="386">B</text>
<text x="53.2" y="755.3">C</text>
</g>
<rect x="523.2" y="78.7" width="9.4" height="9" fill="#333333"/>
<rect x="523.2" y="98.0" width="9.4" height="9" fill="#aea7a0"/>
<rect x="523.2" y="115.4" width="9.4" height="9" fill="#ff950e"/>
<rect x="523.2" y="137.5" width="9.4" height="9" fill="#4b1f6f"/>
<rect x="523.2" y="156.9" width="9.4" height="9" fill="#aecf00"/>
<rect x="523.2" y="176.2" width="9.4" height="9" fill="#314004"/>
<rect x="523.2" y="196.2" width="9.4" height="9" fill="#83caff"/>
<rect x="523.2" y="214.3" width="9.4" height="9" fill="#7e0021"/>
<rect x="523.2" y="235.9" width="9.4" height="9" fill="#579d1c"/>
<rect x="523.2" y="253.3" width="9.4" height="9" fill="#ffd320"/>
<rect x="523.2" y="274.8" width="9.4" height="9" fill="#ff420e"/>
<rect x="523.2" y="294.2" width="9.4" height="9" fill="#004586"/>
<rect x="523.2" y="516.2" width="9.4" height="9" fill="#333333"/>
<rect x="523.2" y="536.5" width="9.4" height="9" fill="#579d1c"/>
<rect x="523.2" y="555.9" width="9.4" height="9" fill="#ffd320"/>
<rect x="523.2" y="574.5" width="9.4" height="9" fill="#ff420e"/>
<rect x="523.2" y="596.3" width="9.4" height="9" fill="#004586"/>
<rect x="523.2" y="766.2" width="9.4" height="9" fill="#333333"/>
<rect x="523.2" y="786.1" width="9.4" height="9" fill="#aea7a0"/>
<rect x="523.2" y="803.9" width="9.4" height="9" fill="#ffd320"/>
<rect x="523.2" y="825.8" width="9.4" height="9" fill="#ff420e"/>
<rect x="523.2" y="845.6" width="9.4" height="9" fill="#004586"/>
<rect x="523.2" y="865.5" width="9.4" height="9" fill="#0084d1"/>
<rect x="523.2" y="884.1" width="9.4" height="9" fill="#c5000b"/>
<rect x="523.2" y="903.7" width="9.4" height="9" fill="#ff950e"/>
<rect x="523.2" y="923.5" width="9.4" height="9" fill="#4b1f6f"/>
<rect x="523.2" y="943.4" width="9.4" height="9" fill="#aecf00"/>
<rect x="523.2" y="963.2" width="9.4" height="9" fill="#314004"/>
<rect x="523.2" y="983.1" width="9.4" height="9" fill="#83caff"/>
<rect x="523.2" y="1002.9" width="9.4" height="9" fill="#7e0021"/>
<rect x="523.2" y="1022.8" width="9.4" height="9" fill="#579d1c"/>
<rect x="523.2" y="1042.4" width="9.4" height="9" fill="#ffd320"/>
<rect x="523.2" y="1064.3" width="9.4" height="9" fill="#ff420e"/>
<rect x="523.2" y="1082.1" width="9.4" height="9" fill="#004586"/>
<g class="t" font-size="18">
<text x="537" y="88.5">unclassified</text>
<text x="537" y="107.8">others</text>
<text x="537" y="125.2" font-style="italic">Nitrospirae</text>
<text x="537" y="147.3" font-style="italic">Bacteroidetes</text>
<text x="537" y="166.7" font-style="italic">Verrucomicrobia</text>
<text x="537" y="186.0" font-style="italic">Firmicutes</text>
<text x="537" y="206.0" font-style="italic">Gemmatimonadetes</text>
<text x="537" y="224.1" font-style="italic">Planctomycetes</text>
<text x="537" y="245.7" font-style="italic">Acidobacteria</text>
<text x="537" y="263.1" font-style="italic">Chloroflexi</text>
<text x="537" y="284.6" font-style="italic">Proteobacteria</text>
<text x="537" y="304.0" font-style="italic">Actinobacteria</text>
<text x="537" y="526.0">unclassified</text>
<text x="537" y="546.3" font-style="italic">Crenarchaeota</text>
<text x="537" y="565.7" font-style="italic">Nanoarchaeaeota</text>
<text x="537" y="584.3" font-style="italic">Euryarchaeota</text>
<text x="537" y="606.1" font-style="italic">Thaumarchaeota</text>
<text x="537" y="776.0">unclassified</text>
<text x="537" y="795.9">others</text>
<text x="537" y="813.7">Peronosporomycetes</text>
<text x="537" y="835.6">Nematoda</text>
<text x="537" y="855.4">Annelida</text>
<text x="537" y="875.3">Discosea</text>
<text x="537" y="893.9">Myxogastria</text>
<text x="537" y="913.5">Apicomplexa</text>
<text x="537" y="933.3">Schizoplasmodiida</text>
<text x="537" y="953.2">Ciliophora</text>
<text x="537" y="973.0">Arthropoda</text>
<text x="537" y="992.9">Ochrophyta</text>
<text x="537" y="1012.7">Chlorophyta</text>
<text x="537" y="1032.6">Mucoromycota</text>
<text x="537" y="1052.2">Basidiomycota</text>
<text x="537" y="1074.1">Cercozoa</text>
<text x="537" y="1091.9">Ascomycota</text>
</g>
</svg>
</body></html>
